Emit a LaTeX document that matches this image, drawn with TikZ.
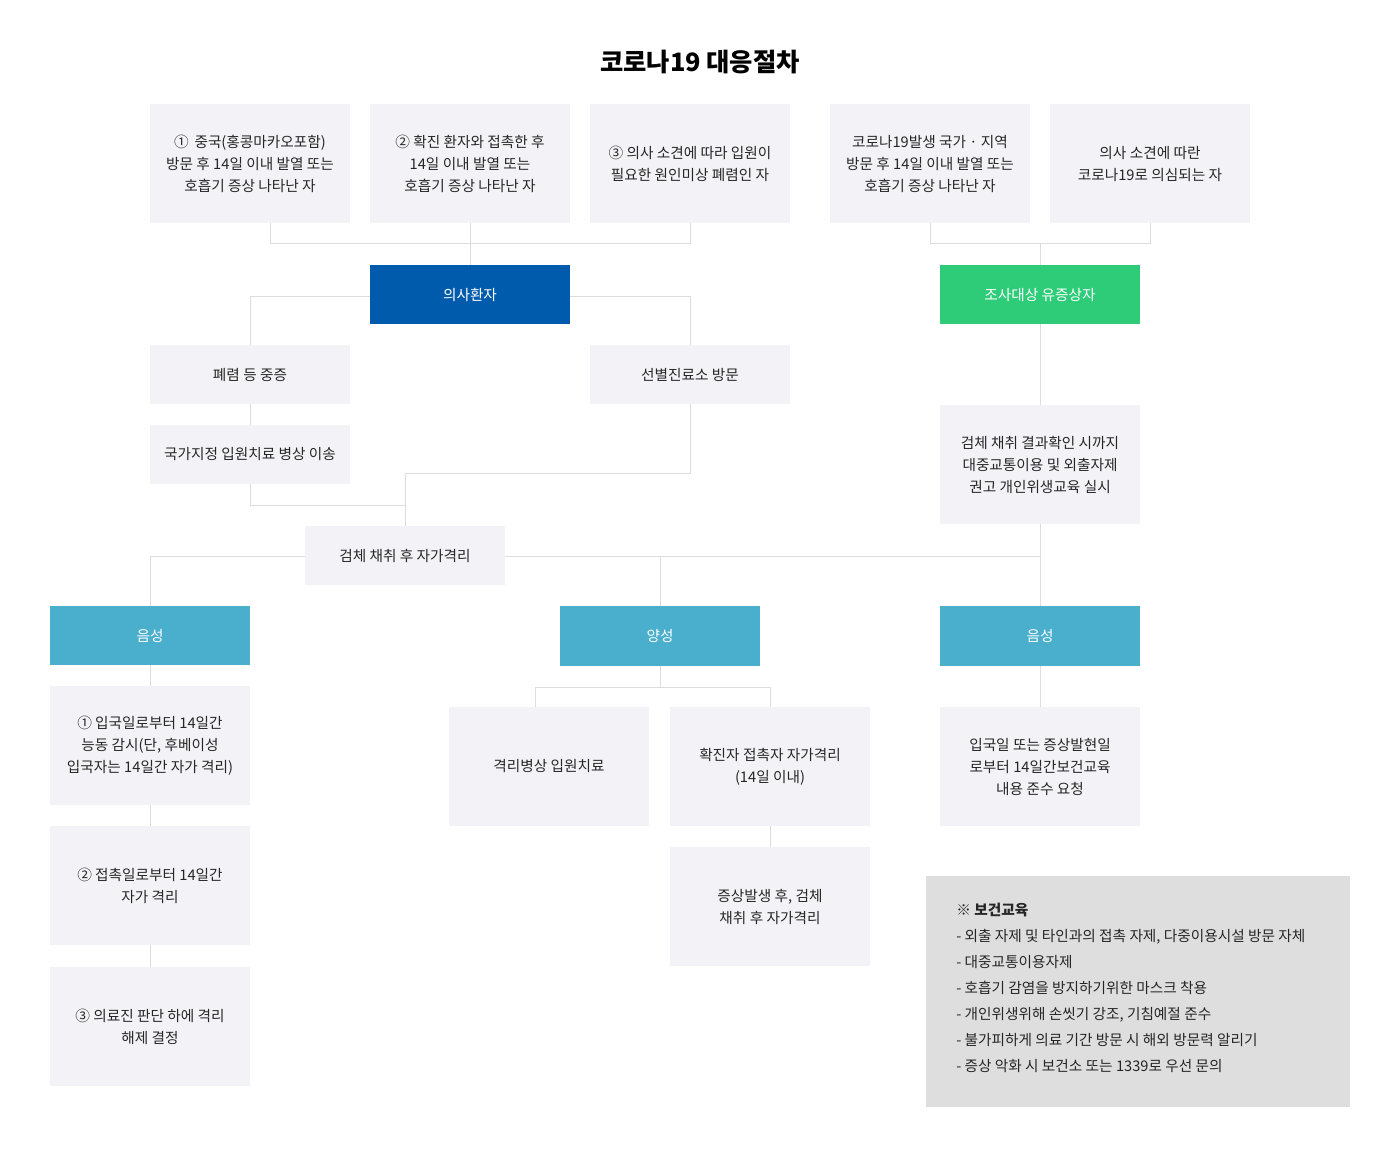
\documentclass[tikz,border=0pt]{standalone}
\usepackage{fontspec}
\setmainfont{Noto Sans CJK KR}
\definecolor{boxc}{HTML}{F3F3F7}
\definecolor{linec}{HTML}{DCDCDC}
\definecolor{bluec}{HTML}{005BAC}
\definecolor{greenc}{HTML}{2ECC78}
\definecolor{tealc}{HTML}{4AAFCD}
\definecolor{noteb}{HTML}{DEDEDE}
\begin{document}
\begin{tikzpicture}[x=0.75pt,y=-0.75pt,
 bx/.style={fill=boxc,draw=none,align=center,font=\fontsize{11}{16.5}\selectfont,text=black!85},
 hd/.style={draw=none,align=center,font=\fontsize{11}{16.5}\selectfont,text=white},
 ln/.style={draw=linec,line width=0.75pt}]
\useasboundingbox[fill=white] (0,0) rectangle (1400,1158);
\node[font=\fontsize{19}{22}\selectfont\bfseries] (title) at (700,62) {코로나19 대응절차};
% helper: box by corners
\newcommand{\bb}[6]{\path[#1] (#2,#3) rectangle (#4,#5); \node[#1,fill=none] (#6) at ({(#2+#4)/2},{(#3+#5)/2}) }
% lines first
\draw[ln] (270,223)--(270,243)--(690,243)--(690,223);
\draw[ln] (470,223)--(470,265);
\draw[ln] (930,223)--(930,243)--(1150,243)--(1150,223);
\draw[ln] (1040,243)--(1040,265);
\draw[ln] (370,296)--(250,296)--(250,345);
\draw[ln] (570,296)--(690,296)--(690,345);
\draw[ln] (250,404)--(250,425);
\draw[ln] (250,484)--(250,505)--(405,505);
\draw[ln] (690,404)--(690,473)--(405,473)--(405,526);
\draw[ln] (150,606)--(150,556)--(1040,556);
\draw[ln] (660,556)--(660,606);
\draw[ln] (1040,324)--(1040,606);
\draw[ln] (150,665)--(150,967);
\draw[ln] (660,666)--(660,687);
\draw[ln] (535,707)--(535,687)--(770,687)--(770,707);
\draw[ln] (770,826)--(770,847);
\draw[ln] (1040,666)--(1040,707);
% boxes
\bb{bx}{150}{104}{350}{223}{t1}{①\, 중국(홍콩마카오포함)\\방문 후 14일 이내 발열 또는\\호흡기 증상 나타난 자};
\bb{bx}{370}{104}{570}{223}{t2}{② 확진 환자와 접촉한 후\\14일 이내 발열 또는\\호흡기 증상 나타난 자};
\bb{bx}{590}{104}{790}{223}{t3}{③ 의사 소견에 따라 입원이\\필요한 원인미상 폐렴인 자};
\bb{bx}{830}{104}{1030}{223}{t4}{코로나19발생 국가 · 지역\\방문 후 14일 이내 발열 또는\\호흡기 증상 나타난 자};
\bb{bx}{1050}{104}{1250}{223}{t5}{의사 소견에 따란\\코로나19로 의심되는 자};
\bb{hd,fill=bluec}{370}{265}{570}{324}{sus}{의사환자};
\bb{hd,fill=greenc}{940}{265}{1140}{324}{inv}{조사대상 유증상자};
\bb{bx}{150}{345}{350}{404}{sev}{폐렴 등 중증};
\bb{bx}{590}{345}{790}{404}{clin}{선별진료소 방문};
\bb{bx}{150}{425}{350}{484}{nat}{국가지정 입원치료 병상 이송};
\bb{bx}{305}{526}{505}{585}{test}{검체 채취 후 자가격리};
\bb{bx}{940}{405}{1140}{524}{edu}{검체 채취 결과확인 시까지\\대중교통이용 및 외출자제\\권고 개인위생교육 실시};
\bb{hd,fill=tealc}{50}{606}{250}{665}{neg1}{음성};
\bb{hd,fill=tealc}{560}{606}{760}{666}{pos}{양성};
\bb{hd,fill=tealc}{940}{606}{1140}{666}{neg2}{음성};
\bb{bx}{50}{686}{250}{805}{l1}{① 입국일로부터 14일간\\능동 감시(단, 후베이성\\입국자는 14일간\ 자가 격리)};
\bb{bx}{50}{826}{250}{945}{l2}{② 접촉일로부터 14일간\\자가 격리};
\bb{bx}{50}{967}{250}{1086}{l3}{③ 의료진 판단 하에 격리\\해제 결정};
\bb{bx}{449}{707}{649}{826}{p1}{격리병상 입원치료};
\bb{bx}{670}{707}{870}{826}{p2}{확진자 접촉자 자가격리\\(14일 이내)};
\bb{bx}{670}{847}{870}{966}{p3}{증상발생 후, 검체\\채취 후 자가격리};
\bb{bx}{940}{707}{1140}{826}{r1}{입국일 또는 증상발현일\\로부터 14일간보건교육\\내용 준수 요청};
\path[fill=noteb] (926,876) rectangle (1350,1107);
\node[anchor=north west,align=left,font=\fontsize{11}{19.5}\selectfont,text=black!85,inner sep=0] (note) at (956,903) {{\bfseries ※ 보건교육}\\- 외출 자제 및 타인과의 접촉 자제, 다중이용시설 방문 자체\\- 대중교통이용자제\\- 호흡기 감염을 방지하기위한 마스크 착용\\- 개인위생위해 손씻기 강조, 기침예절 준수\\- 불가피하게 의료 기간 방문 시 해외 방문력 알리기\\- 증상 악화 시 보건소 또는 1339로 우선 문의};
\end{tikzpicture}
\end{document}
